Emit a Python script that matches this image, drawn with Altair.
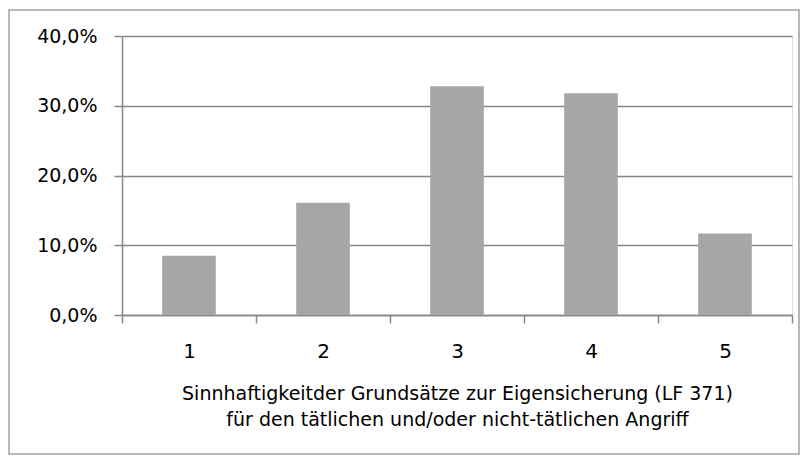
import altair as alt
import pandas as pd

categories = ["1", "2", "3", "4", "5"]
values = [8.5, 16.1, 32.8, 31.8, 11.7]
y_ticks = [0, 10, 20, 30, 40]
title_lines = [
    "Sinnhaftigkeitder Grundsätze zur Eigensicherung (LF 371)",
    "für den tätlichen und/oder nicht-tätlichen Angriff",
]

df = pd.DataFrame({"cat": categories, "val": values})

FONT = "DejaVu Sans"
GRID = "#868686"

bars = alt.Chart(df).mark_bar(
    color="#a6a6a6", width=alt.RelativeBandSize(0.4)
).encode(
    x=alt.X(
        "cat:N",
        sort=categories,
        scale=alt.Scale(paddingInner=0, paddingOuter=0),
        axis=alt.Axis(
            title=title_lines,
            titleFont=FONT,
            titleFontSize=19,
            titleFontWeight="normal",
            titleColor="#000000",
            titleLineHeight=26,
            titlePadding=23,
            labelAngle=0,
            labelFont=FONT,
            labelFontSize=20,
            labelColor="#000000",
            labelPadding=18,
            tickBand="extent",
            tickSize=8,
            tickColor=GRID,
            domainColor=GRID,
            domainWidth=1.5,
            tickWidth=1.5,
            grid=False,
        ),
    ),
    y=alt.Y(
        "val:Q",
        scale=alt.Scale(domain=[0, 40], nice=False),
        axis=alt.Axis(
            title=None,
            values=y_ticks,
            labelExpr="replace(format(datum.value, '.1f'), '.', ',') + '%'",
            labelFont=FONT,
            labelFontSize=19,
            labelColor="#000000",
            labelPadding=17,
            tickSize=8,
            tickColor=GRID,
            tickWidth=1.5,
            domainColor=GRID,
            domainWidth=1.5,
            gridColor=GRID,
            gridWidth=1.5,
        ),
    ),
)

border = alt.Chart(pd.DataFrame({"a": [0]})).mark_rect(
    fillOpacity=0, stroke="#a0a0a0", strokeWidth=1.5
).encode(
    x=alt.value(-113), x2=alt.value(677), y=alt.value(-26), y2=alt.value(418)
)

chart = alt.layer(border, bars).properties(
    width=670,
    height=279,
    autosize=alt.AutoSizeParams(type="none"),
    padding={"left": 114, "top": 28, "right": 8, "bottom": 140},
).configure_view(stroke=None).configure(background="white")

chart.save("out.html", embed_options={"renderer": "svg", "actions": False})
